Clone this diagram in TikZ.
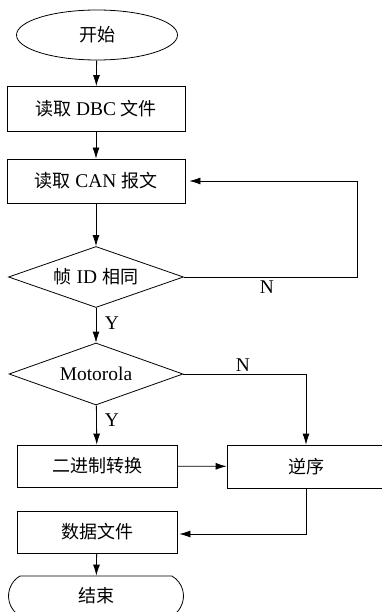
\documentclass[tikz,border=0pt]{standalone}
\usepackage{fontspec}
\setmainfont[Scale=1.08]{Liberation Serif}
\newfontfamily\cjk{Noto Sans CJK SC}
\newcommand{\zh}[1]{{\cjk #1}}
\usepackage{tikz}
\usetikzlibrary{shapes.geometric, shapes.misc, arrows.meta}

\begin{document}
\begin{tikzpicture}[x=1pt, y=-1pt,
		every node/.style={font=\fontsize{18}{20}\selectfont, inner sep=0pt},
		box/.style={draw, line width=0.8pt, rectangle, minimum width=178pt, minimum height=45pt},
		smallbox/.style={box, minimum width=160pt, minimum height=42pt},
		cond/.style={draw, line width=0.8pt, diamond, aspect=3, minimum width=175pt, minimum height=61pt},
		terminal/.style={draw, line width=0.8pt},
		flow/.style={line width=0.8pt, -{Latex[length=11pt, width=7pt]}},
		link/.style={line width=0.8pt}
		]
		\useasboundingbox (0,0) rectangle (382,612);
		
		\node[terminal, ellipse, minimum width=161pt, minimum height=50pt] (start) at (97,35) {\zh{开始}};
		\node[box] (dbc) at (96,109) {\zh{读取} DBC \zh{文件}};
		\node[box, minimum height=44pt] (can) at (96,181) {\zh{读取} CAN \zh{报文}};
		\node[cond] (sameid) at (96,277) {\zh{帧} ID \zh{相同}};
		\node[cond, minimum width=174pt, minimum height=62pt] (moto) at (96,374) {Motorola};
		\node[smallbox] (bin) at (97,466) {\zh{二进制转换}};
		\node[smallbox, minimum width=158pt, minimum height=43pt] (rev) at (306,466.5) {\zh{逆序}};
		\node[smallbox] (data) at (97,532) {\zh{数据文件}};
		\node[terminal, rounded rectangle, rounded rectangle arc length=120, minimum width=175pt, minimum height=40pt] (stop) at (96,596) {\zh{结束}};
		
		\coordinate (loop) at (357,277);
		
		\draw[flow] (start) -- (dbc);
		\draw[flow] (dbc) -- (can);
		\draw[flow] (can) -- (sameid);
		\draw[flow, shorten >=4pt] (sameid.east) -- (loop) |- (can.east);
		\draw[flow] (sameid) -- (moto);
		\draw[flow] (moto.east) -| (rev.north);
		\draw[flow] (moto) -- (bin);
		\draw[flow] (bin) -- (rev);
		\draw[flow, shorten >=2pt] (rev.south) |- ([yshift=-2pt]data.east);
		\draw[flow] (data) -- (stop);
		
		% labels
		\node (nloop) at (267,287) {N};
		\node (ysame) at (112,323) {Y};
		\node (nmoto) at (243,365) {N};
		\node (ymoto) at (112,420) {Y};
\end{tikzpicture}
\end{document}
